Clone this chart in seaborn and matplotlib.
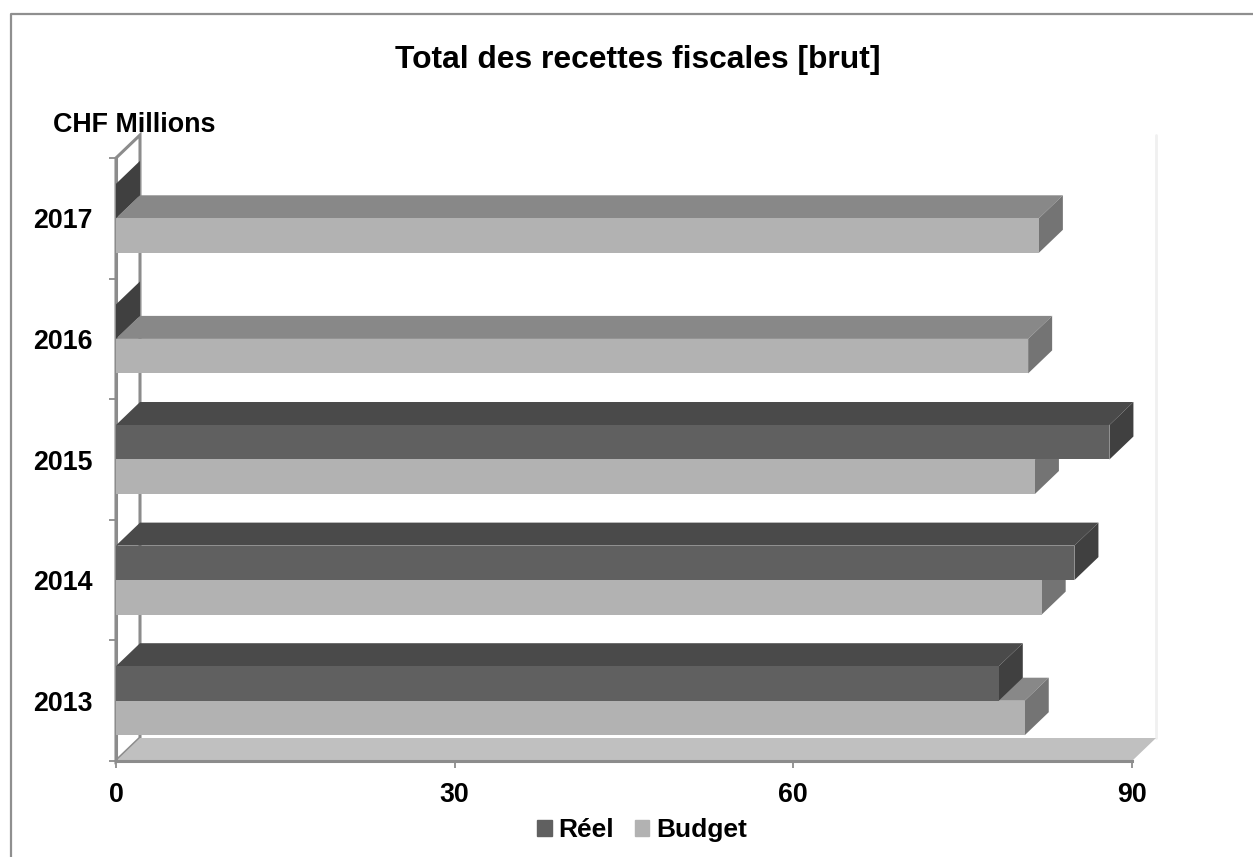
import pandas as pd
import matplotlib
matplotlib.use('Agg')
import matplotlib.pyplot as plt
from matplotlib.patches import Polygon
from matplotlib.lines import Line2D
import seaborn as sns

years = ['2017', '2016', '2015', '2014', '2013']
reel = [0.0, 0.0, 88.0, 84.9, 78.2]
budget = [81.75, 80.8, 81.4, 82.0, 80.5]
x_ticks = [0, 30, 60, 90]
title = 'Total des recettes fiscales [brut]'
unit = 'CHF Millions'

W, H = 1253, 857
LEFT, RIGHT, TOP, BOTTOM = 116, 1132, 158, 761
DEPTH_X, DEPTH_Y = 24, 23  # 3d offset in pixels
GREY = '#8c8c8c'

sns.set_theme(style='white')
plt.rcParams['font.family'] = ['Liberation Sans', 'DejaVu Sans']
plt.rcParams['font.weight'] = 'bold'

df = pd.DataFrame({
    'year': years * 2,
    'value': reel + budget,
    'serie': ['Réel'] * len(years) + ['Budget'] * len(years),
})

fig = plt.figure(figsize=(W / 100, H / 100), dpi=100)
ax = fig.add_axes([LEFT / W, 1 - BOTTOM / H, (RIGHT - LEFT) / W, (BOTTOM - TOP) / H])
ax.patch.set_alpha(0)

palette = {'Réel': '#606060', 'Budget': '#b2b2b2'}
sns.barplot(data=df, y='year', x='value', hue='serie', order=years,
            hue_order=['Réel', 'Budget'], palette=palette, orient='h',
            width=0.572, gap=0, saturation=1, linewidth=0, legend=False, ax=ax)
ax.set_xlim(0, 90)
ax.set_ylim(len(years) - 0.5, -0.5)

# size of the 3d offset in data units
dx = DEPTH_X * 90 / (RIGHT - LEFT)
dy = DEPTH_Y * len(years) / (BOTTOM - TOP)


def face(pts, color, z, **kw):
    ax.add_patch(Polygon(pts, closed=True, facecolor=color, edgecolor=kw.get('edge', 'none'),
                         linewidth=kw.get('lw', 0), clip_on=False, zorder=z))


# walls and floor
y0, y1 = ax.get_ylim()
face([(0, y0), (dx, y0 - dy), (90 + dx, y0 - dy), (90, y0)], '#c0c0c0', 0.5)
face([(0, y0), (dx, y0 - dy), (dx, y1 - dy), (0, y1)], 'white', 0.4, edge=GREY, lw=2.2)
ax.plot([90 + dx, 90 + dx], [y0 - dy, y1 - dy], color='#f0f0f0', lw=2, clip_on=False, zorder=0.3)

# top and side of each bar, budget behind reel
tops = {'Réel': '#4a4a4a', 'Budget': '#888888'}
sides = {'Réel': '#404040', 'Budget': '#747474'}
for cont, name, z in zip(ax.containers, ['Réel', 'Budget'], [3, 2]):
    for bar in cont:
        bar.set_zorder(z + 0.1)
        x = bar.get_width()
        up = bar.get_y()
        down = up + bar.get_height()
        if x > 0:
            face([(0, up), (dx, up - dy), (x + dx, up - dy), (x, up)], tops[name], z)
        face([(x, up), (x + dx, up - dy), (x + dx, down - dy), (x, down)], sides[name], z)

ax.set_xticks(x_ticks)
ax.set_xticklabels([str(t) for t in x_ticks])
ax.set_xlabel('')
ax.set_ylabel('')
ax.set_yticks([i - 0.5 for i in range(len(years) + 1)], minor=True)
ax.tick_params(axis='y', which='minor', left=True, length=5, width=1.3, color=GREY)
ax.tick_params(axis='y', which='major', left=False, pad=11, labelsize=19.3)
ax.tick_params(axis='x', which='major', bottom=True, length=5, width=1.3, color=GREY, pad=10, labelsize=19.3)
for lab in ax.get_xticklabels() + ax.get_yticklabels():
    lab.set_fontweight('bold')
    lab.set_color('black')

sns.despine(ax=ax, top=True, right=True)
for side in ['left', 'bottom']:
    ax.spines[side].set_color(GREY)
    ax.spines[side].set_linewidth(2.2)
    ax.spines[side].set_zorder(1)

# outer chart frame, open on the right and at the bottom
fig.add_artist(Line2D([10.5 / W, 10.5 / W, 1], [0, 1 - 14 / H, 1 - 14 / H],
                      color='#8f8f8f', lw=1.6, transform=fig.transFigure))

fig.text(638 / W, 1 - 60 / H, title, ha='center', va='center', fontsize=22.9, fontweight='bold', color='black')
fig.text(53 / W, 1 - 125 / H, unit, ha='left', va='center', fontsize=19.4, fontweight='bold', color='black')

handles = [plt.Rectangle((0, 0), 1, 1, color=palette[k]) for k in ['Réel', 'Budget']]
fig.legend(handles, ['Réel', 'Budget'], loc='center', bbox_to_anchor=(642 / W, 1 - 830 / H),
           ncol=2, frameon=False, handlelength=0.55, handleheight=0.55, handletextpad=0.25,
           columnspacing=0.8, prop={'size': 19, 'weight': 'bold'}, labelcolor='black')

fig.savefig('out.png', dpi=100)
